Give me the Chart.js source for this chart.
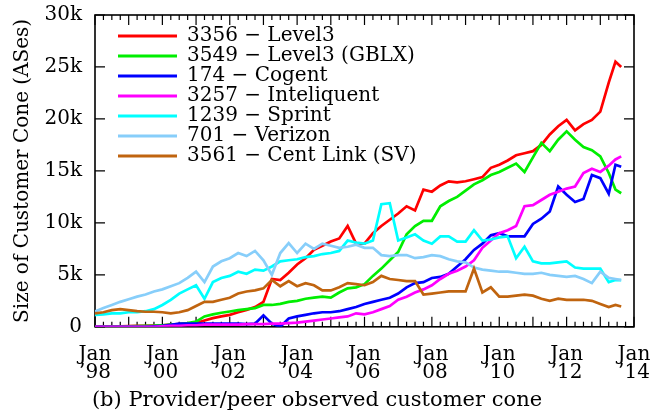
<!DOCTYPE html>
<html><head><meta charset="utf-8">
<script src="https://cdn.jsdelivr.net/npm/chart.js@4"></script>
<style>html,body{margin:0;padding:0;background:#fff}</style>
</head><body>
<canvas id="c" width="663" height="415"></canvas>
<script>
const dates = [
  1998.00,1998.25,1998.50,1998.75, 1999.00,1999.25,1999.50,1999.75,
  2000.00,2000.25,2000.50,2000.75, 2001.00,2001.25,2001.50,2001.75,
  2002.00,2002.25,2002.50,2002.75, 2003.00,2003.25,2003.50,2003.75,
  2004.00,2004.25,2004.50,2004.75, 2005.00,2005.25,2005.50,2005.75,
  2006.00,2006.25,2006.50,2006.75, 2007.00,2007.25,2007.50,2007.75,
  2008.00,2008.25,2008.50,2008.75, 2009.00,2009.25,2009.50,2009.75,
  2010.00,2010.25,2010.50,2010.75, 2011.00,2011.25,2011.50,2011.75,
  2012.00,2012.25,2012.50,2012.75, 2013.00,2013.25,2013.45,2013.62
];
const level3 = [
  0,20,30,50, 60,80,100,120, 150,200,250,300, 350,600,830,1000,
  1150,1400,1630,1900, 2400,4600,4500,5200, 6000,6600,7400,7800, 8200,8500,9700,8000,
  8000,9000,9700,10300, 10900,11600,11200,13200, 13000,13600,14000,13900, 14000,14200,14400,15300,
  15600,16000,16500,16700, 16900,17500,18500,19300, 19900,18900,19500,19900, 20700,23500,25500,25000
];
const gblx = [
  0,10,20,30, 50,70,90,110, 150,200,250,350, 500,1000,1200,1350,
  1470,1600,1700,1800, 2100,2100,2200,2400, 2500,2700,2800,2900, 2800,3300,3700,3800,
  4100,4900,5600,6400, 7200,8900,9700,10200, 10200,11600,12100,12500, 13100,13700,14100,14600,
  14900,15300,15700,14900, 16300,17700,16900,18000, 18800,18000,17300,17000, 16400,14800,13200,12850
];
const cogent = [
  0,0,0,0, 0,0,0,50, 100,200,300,300, 300,300,300,300,
  300,300,250,300, 1100,300,0,800, 1000,1150,1300,1400, 1400,1500,1700,1900,
  2200,2400,2600,2800, 3200,3800,4200,4300, 4700,4800,5100,5800, 6500,7400,8000,8800,
  9000,8700,8700,8700, 9900,10400,11100,13500, 12700,12000,12300,14600, 14300,12800,15600,15400
];
const inteliquent = [
  0,0,0,0, 0,0,0,0, 50,100,100,150, 150,200,200,200,
  200,200,250,250, 250,300,300,350, 400,500,600,700, 800,900,1000,1300,
  1200,1400,1700,2000, 2600,2900,3300,3600, 4000,4600,5100,5400, 5800,6400,7600,8300,
  9000,9300,9700,11600, 11700,12200,12700,13000, 13300,13500,14800,15200, 14900,15500,16100,16400
];
const sprint = [
  1150,1200,1300,1300, 1400,1400,1500,1700, 2100,2600,3200,3600, 4000,2700,4300,4700,
  4900,5300,5100,5500, 5400,5800,6300,6400, 6500,6700,6800,7000, 7100,7300,8300,8100,
  8000,8300,11800,11900, 8300,8600,8900,8300, 8000,8700,8700,8200, 8200,9300,8300,8400,
  8600,8700,6600,7700, 6300,6100,6100,6200, 6300,5700,5600,5600, 5600,4300,4500,4500
];
const verizon = [
  1470,1800,2100,2400, 2650,2900,3100,3400, 3600,3900,4200,4700, 5300,4300,5800,6300,
  6600,7100,6800,7300, 6400,5000,7100,8050, 7100,8000,7500,8000, 7800,7600,7700,7900,
  7600,7600,6900,6800, 6900,6900,6600,6700, 6900,6800,6500,6300, 6200,5700,5500,5400,
  5300,5300,5200,5100, 5100,5200,5000,4900, 4800,4900,4600,4200, 5300,4700,4600,4500
];
const centLink = [
  1300,1400,1600,1700, 1600,1500,1450,1450, 1400,1300,1400,1600, 2000,2400,2400,2600,
  2800,3200,3400,3500, 3700,4500,3900,4400, 3900,4200,4000,3500, 3500,3800,4200,4100,
  4000,4300,4900,4600, 4500,4400,4400,3100, 3200,3300,3400,3400, 3400,5600,3300,3800,
  2900,2900,3000,3100, 3000,2700,2500,2700, 2600,2600,2600,2500, 2200,1900,2100,1950
];

const seriesNames = ['3356 \u2212 Level3','3549 \u2212 Level3 (GBLX)','174 \u2212 Cogent','3257 \u2212 Inteliquent','1239 \u2212 Sprint','701 \u2212 Verizon','3561 \u2212 Cent Link (SV)'];
const seriesValues = [level3, gblx, cogent, inteliquent, sprint, verizon, centLink];
const seriesColors = ['#ff0000','#00ee00','#0000ff','#ff00ff','#00ffff','#87cefa','#c0640f'];
const xTickYears = [1998,2000,2002,2004,2006,2008,2010,2012,2014];
const yTickValues = [0,5000,10000,15000,20000,25000,30000];

Chart.defaults.font.family = "'DejaVu Serif', serif";
Chart.defaults.color = '#000';

const frame = {
  id: 'frame',
  beforeDatasetsDraw(chart) {
    const {ctx, chartArea: a, scales: {x, y}} = chart;
    ctx.save();
    ctx.strokeStyle = '#000';
    ctx.lineWidth = 1.2;
    ctx.beginPath();
    for (let yr = 1998; yr <= 2014; yr += 0.25) {
      const px = x.getPixelForValue(yr);
      const len = Number.isInteger(yr) ? 10 : 5;
      ctx.moveTo(px, a.bottom); ctx.lineTo(px, a.bottom - len);
      ctx.moveTo(px, a.top); ctx.lineTo(px, a.top + len);
    }
    for (const v of yTickValues) {
      const py = y.getPixelForValue(v);
      ctx.moveTo(a.left, py); ctx.lineTo(a.left + 10, py);
      ctx.moveTo(a.right, py); ctx.lineTo(a.right - 10, py);
    }
    ctx.stroke();
    ctx.lineWidth = 1.6;
    ctx.strokeRect(a.left, a.top, a.right - a.left, a.bottom - a.top);
    ctx.restore();
  }
};

const legendPos = {
  id: 'legendPos',
  afterLayout(chart) {
    const l = chart.legend;
    const w = l.width, h = l.height;
    l.left = 118; l.top = 26; l.right = l.left + w; l.bottom = l.top + h;
  }
};

const datasets = seriesNames.map((name, i) => ({
  label: name,
  data: dates.map((d, k) => ({x: d, y: seriesValues[i][k]})),
  borderColor: seriesColors[i],
  backgroundColor: seriesColors[i],
  borderWidth: 2.7,
  pointRadius: 0,
  fill: false,
  tension: 0,
  order: seriesNames.length - i
}));

new Chart(document.getElementById('c'), {
  type: 'line',
  data: { datasets },
  options: {
    responsive: false,
    animation: false,
    devicePixelRatio: 1,
    layout: { padding: { left: 0, right: 29, top: 15, bottom: 2 } },
    scales: {
      x: {
        type: 'linear', min: 1998, max: 2014,
        grid: { display: false, drawTicks: false },
        border: { display: false },
        afterBuildTicks: s => { s.ticks = xTickYears.map(v => ({value: v})); },
        ticks: {
          padding: 19, color: '#000', maxRotation: 0, autoSkip: false,
          font: { size: 20, lineHeight: 0.9 },
          callback: v => ['Jan', '\u2019' + String(v).slice(2)]
        },
        afterFit: s => { s.height = 61; s.paddingLeft = 0; s.paddingRight = 0; }
      },
      y: {
        min: 0, max: 30000,
        grid: { display: false, drawTicks: false },
        border: { display: false },
        afterBuildTicks: s => { s.ticks = yTickValues.map(v => ({value: v})); },
        ticks: {
          padding: 13, color: '#000', font: { size: 20 },
          callback: v => v === 0 ? '0' : (v / 1000) + 'k'
        },
        title: {
          display: true, text: 'Size of Customer Cone (ASes)', color: '#000',
          font: { size: 20 }, padding: { top: 11, bottom: 0 }
        },
        afterFit: s => { s.width = 95; s.paddingTop = 0; s.paddingBottom = 0; }
      }
    },
    plugins: {
      legend: {
        position: 'chartArea', align: 'start',
        labels: {
          boxWidth: 59, boxHeight: 3, padding: 0, color: '#000', font: { size: 20 },
          generateLabels: chart => chart.data.datasets.map((ds, i) => ({
            text: ds.label, fillStyle: ds.borderColor, strokeStyle: ds.borderColor,
            lineWidth: 0, hidden: false, datasetIndex: i, fontColor: '#000'
          }))
        }
      },
      title: {
        display: true, position: 'bottom', text: '(b) Provider/peer observed customer cone',
        color: '#000', font: { size: 21, weight: 'normal' }, padding: 0
      },
      tooltip: { enabled: false }
    }
  },
  plugins: [frame, legendPos]
});
</script>
</body></html>
